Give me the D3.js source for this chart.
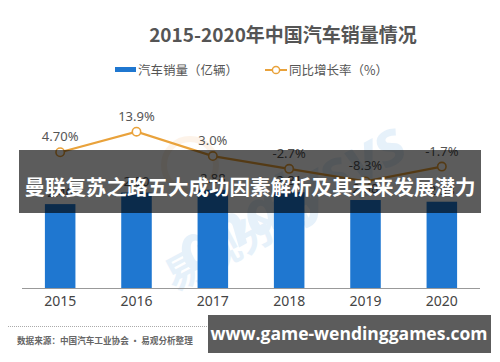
<!DOCTYPE html>
<html>
<head>
<meta charset="utf-8">
<script src="https://cdn.jsdelivr.net/npm/d3@7"></script>
<style>
  body { margin: 0; background: #fff; }
  svg { display: block; font-family: "Noto Sans", "Noto Sans CJK SC", sans-serif; }
</style>
</head>
<body>
<svg id="chart" width="500" height="362"></svg>
<script>
// data
const years = ["2015", "2016", "2017", "2018", "2019", "2020"]
const sales = [2.46, 2.80, 2.88, 2.81, 2.58, 2.53]          // 亿辆
const growth = [4.7, 13.9, 3.0, -2.7, -8.3, -1.7]           // %
const growthLabels = ["4.70%", "13.9%", "3.0%", "-2.7%", "-8.3%", "-1.7%"]
const salesLabels = ["2.46", "2.80", "2.88", "2.81", "2.58", "2.53"]

const blue = "#1f77d0"
const orange = "#e9a23b"

const svg = d3.select("#chart")

// faint watermark
const wm = svg.append("g").attr("opacity", 0.12)
wm.append("text")
  .attr("transform", "translate(300,215) rotate(-28)")
  .attr("font-size", 62).attr("font-weight", "bold").attr("font-style", "italic")
  .attr("fill", "#3b8fd8").attr("text-anchor", "middle")
  .style("font-family", "'Open Sans', sans-serif")
  .text("analysys")
wm.append("text")
  .attr("transform", "translate(245,255) rotate(-28)")
  .attr("font-size", 40).attr("font-weight", "bold")
  .attr("fill", "#3b8fd8").attr("text-anchor", "middle")
  .style("font-family", "'Noto Sans CJK SC', sans-serif")
  .text("易观分析")
wm.append("circle")
  .attr("cx", 190).attr("cy", 165).attr("r", 26)
  .attr("fill", "none").attr("stroke", "#f0a050").attr("stroke-width", 6)

// title
svg.append("text")
  .attr("x", 283).attr("y", 42)
  .attr("text-anchor", "middle")
  .attr("font-size", 19).attr("font-weight", "bold")
  .attr("fill", "#555")
  .style("font-family", "'Noto Sans CJK SC', sans-serif")
  .text("2015-2020年中国汽车销量情况")

// legend
svg.append("rect").attr("x", 115).attr("y", 67).attr("width", 21).attr("height", 5).attr("fill", blue)
svg.append("text").attr("x", 138).attr("y", 75)
  .attr("font-size", 12.5).attr("fill", "#555")
  .style("font-family", "'Noto Sans CJK SC', sans-serif")
  .text("汽车销量（亿辆）")
svg.append("line").attr("x1", 265).attr("x2", 287).attr("y1", 70).attr("y2", 70)
  .attr("stroke", orange).attr("stroke-width", 2)
svg.append("circle").attr("cx", 276).attr("cy", 70).attr("r", 3.6)
  .attr("fill", "#fff").attr("stroke", orange).attr("stroke-width", 1.5)
svg.append("text").attr("x", 289).attr("y", 75)
  .attr("font-size", 12.5).attr("fill", "#555")
  .style("font-family", "'Noto Sans CJK SC', sans-serif")
  .text("同比增长率（%）")

// scales
const x = d3.scaleBand().domain(years).range([22, 480]).paddingInner(0.6).paddingOuter(0.3)
const yBar = d3.scaleLinear().domain([0, 3]).range([288, 185.7])
const yLine = d3.scaleLinear().domain([-30, 20]).range([230, 118])

// bars
svg.append("g").selectAll("rect")
  .data(sales)
  .join("rect")
  .attr("x", (d, i) => x(years[i]))
  .attr("y", d => yBar(d))
  .attr("width", x.bandwidth())
  .attr("height", d => yBar(0) - yBar(d))
  .attr("fill", blue)

svg.append("g").selectAll("text")
  .data(sales)
  .join("text")
  .attr("x", (d, i) => x(years[i]) + x.bandwidth() / 2)
  .attr("y", d => yBar(d) - 7)
  .attr("text-anchor", "middle")
  .attr("font-size", 13).attr("fill", "#555")
  .text((d, i) => salesLabels[i])

// x axis
const xAxis = svg.append("g")
  .attr("transform", "translate(0,288)")
  .call(d3.axisBottom(x).tickSize(0).tickPadding(8))
xAxis.select(".domain").attr("stroke", "#999").attr("d", "M22,0.5H480")
xAxis.selectAll("text")
  .attr("font-size", 14).attr("fill", "#444")
  .style("font-family", "'Noto Sans', sans-serif")

// growth line
const cx = (d, i) => x(years[i]) + x.bandwidth() / 2
const line = d3.line().x(cx).y(d => yLine(d))
svg.append("path")
  .datum(growth)
  .attr("d", line)
  .attr("fill", "none")
  .attr("stroke", orange)
  .attr("stroke-width", 2.2)

svg.append("g").selectAll("circle")
  .data(growth)
  .join("circle")
  .attr("cx", cx)
  .attr("cy", d => yLine(d))
  .attr("r", 4.2)
  .attr("fill", "#fff")
  .attr("stroke", orange)
  .attr("stroke-width", 1.6)

svg.append("g").selectAll("text")
  .data(growth)
  .join("text")
  .attr("x", cx)
  .attr("y", d => yLine(d) - 11)
  .attr("text-anchor", "middle")
  .attr("font-size", 13).attr("fill", "#555")
  .text((d, i) => growthLabels[i])

// footer
svg.append("line").attr("x1", 8).attr("x2", 488).attr("y1", 326.5).attr("y2", 326.5)
  .attr("stroke", "#aaa").attr("stroke-width", 1).attr("stroke-dasharray", "1,1")
svg.append("text").attr("x", 17).attr("y", 344)
  .attr("font-size", 8.6).attr("font-weight", "bold").attr("fill", "#666")
  .style("font-family", "'Noto Sans CJK SC', sans-serif")
  .text("数据来源：中国汽车工业协会 · 易观分析整理")

// overlay banner
svg.append("rect").attr("x", 19).attr("y", 150).attr("width", 462).attr("height", 63)
  .attr("fill", "rgba(0,0,0,0.64)")
svg.append("text").attr("x", 250).attr("y", 195)
  .attr("text-anchor", "middle")
  .attr("font-size", 20.5).attr("font-weight", "bold").attr("fill", "#fff")
  .style("font-family", "'Noto Sans CJK SC', sans-serif")
  .text("曼联复苏之路五大成功因素解析及其未来发展潜力")

svg.append("rect").attr("x", 208).attr("y", 315).attr("width", 283).attr("height", 38)
  .attr("fill", "#5c5c5c")
svg.append("text").attr("x", 349).attr("y", 340)
  .attr("text-anchor", "middle")
  .attr("font-size", 17.5).attr("font-weight", "bold").attr("fill", "#fff")
  .style("font-family", "'Open Sans', sans-serif")
  .text("www.game-wendinggames.com")
</script>
</body>
</html>
